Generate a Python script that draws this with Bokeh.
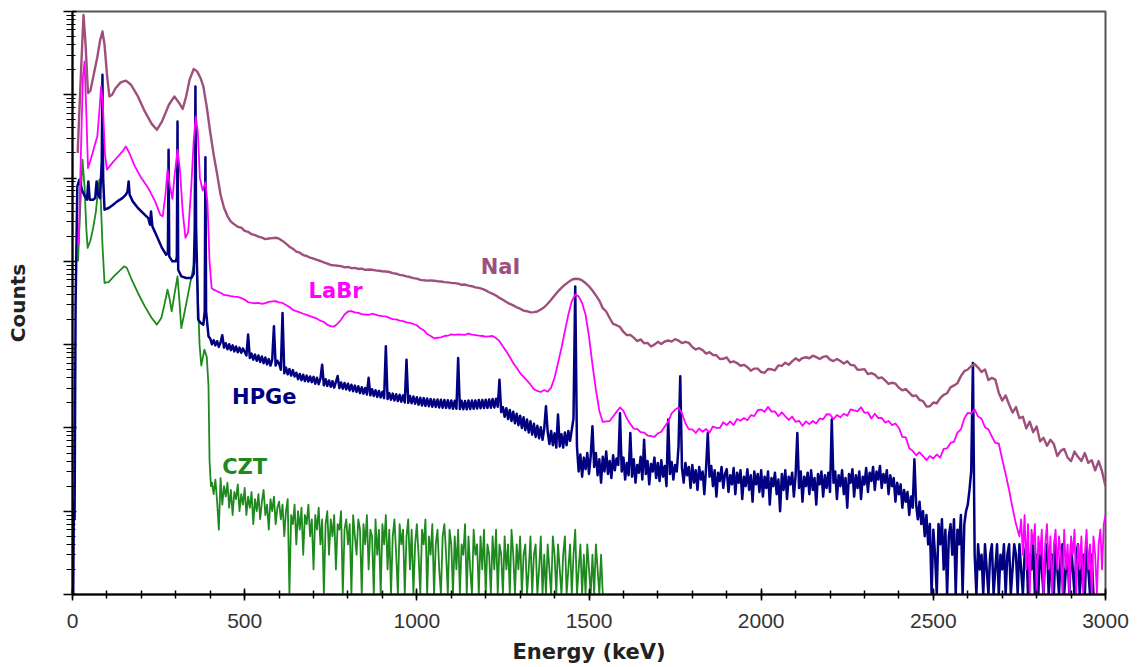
from bokeh.plotting import figure
from bokeh.models import Range1d, FixedTicker, CustomJSTickFormatter, ColumnDataSource
from bokeh.core.properties import value
from bokeh.embed import file_html
from bokeh.resources import INLINE

# ---------------- data (counts per channel) ----------------
detectors = ["NaI", "LaBr", "HPGe", "CZT"]

# NaI
nai_low_keV = [15, 25, 32, 38, 45, 52, 62, 72, 80, 87, 93, 100, 107, 115, 125, 140, 155, 170, 190, 210,
               230, 245, 260, 280, 296, 310, 320, 330, 340, 352, 362, 372, 380, 390, 400, 410, 420]
nai_low_counts = [200000, 2000000, 9100000, 4000000, 1050000, 1120000, 1780000, 2820000, 4470000, 5750000,
                  4000000, 1780000, 955000, 1000000, 1200000, 1410000, 1480000, 1320000, 955000, 631000,
                  447000, 380000, 479000, 759000, 955000, 794000, 676000, 955000, 1510000, 2040000,
                  1910000, 1580000, 1260000, 708000, 355000, 191000, 112000]
nai_grid_start, nai_grid_step = 430, 10
nai_grid_counts = [
    63000, 44000, 35000, 30000, 27800, 26000, 25400, 23200, 22600, 21200,
    20600, 19800, 19300, 18500, 18800, 19000, 19200, 18700, 17600, 16300,
    15000, 14200, 13100, 12700, 11900, 11600, 11100, 10800, 10400, 10100,
    9700, 9400, 9050, 8950, 8850, 8760, 8480, 8560, 8300, 8360,
    8100, 8180, 7900, 7980, 7920, 7800, 7720, 7620, 7550, 7450,
    7220, 7110, 6880, 6790, 6590, 6480, 6290, 6200, 6000, 5920,
    5870, 5910, 5860, 5780, 5730, 5640, 5590, 5520, 5470, 5400,
    5230, 5270, 5110, 5030, 4880, 4800, 4660, 4480, 4260, 4080,
    3880, 3640, 3460, 3250, 3080, 2960, 2810, 2700, 2560, 2520,
    2440, 2460, 2500, 2640, 2810, 3100, 3460, 3900, 4360, 4800,
    5240, 5630, 6020, 6180, 6150, 5900, 5490, 5020, 4460, 3900,
    3380, 2740, 2500, 2090, 1770, 1710, 1630, 1420, 1300, 1310,
    1212, 1104, 1155, 1040, 1051, 950, 1000, 1081, 1019, 1091,
    1122, 1086, 1165, 1120, 1045, 1082, 1050, 936, 876, 906,
    860, 780, 815, 751, 746, 673, 676, 701, 612, 629,
    601, 558, 572, 537, 487, 516, 515, 469, 460, 510,
    506, 492, 564, 556, 607, 573, 631, 685, 641, 690,
    706, 687, 736, 708, 673, 713, 727, 662, 635, 672,
    637, 592, 633, 569, 567, 499, 501, 508, 443, 456,
    436, 395, 405, 372, 337, 349, 340, 303, 283, 293,
    266, 241, 246, 217, 210, 181, 182, 202, 198, 228,
    250, 261, 307, 324, 345, 419, 480, 503, 552, 584,
    530, 470, 503, 376, 399, 381, 265, 213, 245, 191,
    153, 178, 131, 136, 99, 119, 89, 104, 69, 76,
    61, 72, 64, 46, 53, 56, 44, 40, 52, 45,
    40, 50, 38, 41, 31, 40, 30, 20]

# LaBr
labr_low_keV = [18, 25, 30, 35, 40, 45, 55, 65, 72, 78, 83, 88, 94, 100, 115, 130, 145, 155, 165, 180,
                200, 220, 240, 255, 262, 270, 276, 283, 290, 297, 305, 312, 320, 328, 336, 345, 352, 358,
                364, 370, 378, 386, 392, 398, 404, 410]
labr_low_counts = [15800, 251000, 1580000, 2510000, 631000, 132000, 178000, 251000, 316000, 631000,
                   1260000, 794000, 200000, 126000, 151000, 178000, 209000, 240000, 200000, 141000,
                   100000, 75900, 52500, 36300, 34700, 63100, 126000, 79400, 56200, 112000,
                   219000, 126000, 39800, 19100, 22400, 79400, 282000, 550000, 355000, 100000,
                   70800, 89100, 50100, 10000, 4790, 4570]
labr_grid_start, labr_grid_step = 420, 10
labr_grid_counts = [
    4370, 4200, 3950, 3900, 3820, 3770, 3740, 3610, 3480, 3230,
    3180, 3140, 3170, 3080, 3150, 3260, 3300, 3330, 3220, 3170,
    3000, 2830, 2620, 2520, 2440, 2350, 2280, 2200, 2130, 2050,
    1940, 1870, 1730, 1670, 1650, 1790, 1990, 2300, 2500, 2520,
    2440, 2410, 2330, 2300, 2280, 2350, 2290, 2230, 2200, 2180,
    2100, 2030, 2010, 1940, 1920, 1850, 1830, 1770, 1710, 1570,
    1490, 1340, 1270, 1190, 1210, 1220, 1270, 1280, 1330, 1310,
    1330, 1320, 1310, 1360, 1320, 1300, 1280, 1270, 1250, 1260,
    1270, 1200, 1100, 950, 830, 710, 600, 528, 455, 410,
    370, 333, 292, 278, 270, 285, 272, 305, 400, 600,
    910, 1450, 2290, 3310, 3980, 3800, 3160, 2290, 1260, 575,
    288, 160, 118, 120, 121, 137, 156, 176, 160, 130,
    111, 98, 97, 89, 88, 81, 80, 78, 86, 90,
    104, 119, 150, 165, 176, 150, 114, 96, 96, 87,
    98, 90, 97, 88, 104, 100, 100, 117, 108, 120,
    108, 128, 122, 132, 124, 142, 139, 163, 166, 156,
    179, 157, 158, 138, 154, 138, 125, 137, 118, 122,
    106, 120, 111, 121, 113, 130, 127, 146, 145, 127,
    143, 134, 148, 140, 167, 162, 158, 177, 152, 154,
    130, 148, 131, 132, 116, 121, 108, 113, 100, 78,
    77, 57, 53, 47, 51, 46, 41, 46, 43, 48,
    44, 56, 57, 66, 68, 88, 96, 130, 152, 149,
    167, 137, 129, 102, 96, 79, 66, 65, 42, 28,
    18, 11, 7]
labr_tail_start, labr_tail_step = 2750, 5
labr_tail_counts = [
    5, 8, 3, 9, 2, 7, 1, 6, 4, 7, 1, 5, 3, 6, 1, 4, 7, 2, 5, 1,
    4, 6, 2, 5, 3, 1, 6, 2, 4, 1, 5, 3, 6, 1, 4, 2, 5, 1, 3, 6,
    2, 4, 1, 5, 3, 1, 4, 6, 2, 7, 9]

# HPGe
hpge_low_keV = [2, 4, 6, 9, 14, 20, 28, 36, 42, 46, 50, 60, 66, 70, 74, 80, 85, 87, 89, 93,
                105, 118, 130, 145, 155, 160, 163, 166, 175, 190, 205, 220, 225, 228, 232, 245, 260, 272, 277, 279,
                281, 290, 300, 303, 305, 307, 316, 330, 345, 352, 355, 357, 359, 365, 372, 380, 384, 386, 388, 395]
hpge_low_counts = [1, 13, 8, 3160, 79400, 95500, 70800, 60300, 55000, 91200,
                   55000, 55000, 57500, 91200, 63100, 57500, 158000, 1740000, 100000, 41700,
                   43700, 47900, 52500, 57500, 63100, 69200, 91200, 63100, 52500, 43700,
                   38000, 33100, 27500, 39800, 26300, 20000, 14500, 12000, 12600, 219000,
                   11500, 10000, 10000, 11200, 479000, 7940, 6610, 6310, 6310, 7080,
                   25100, 1260000, 25100, 2000, 1820, 1740, 2510, 178000, 2510, 1260]
hpge_grid_start, hpge_grid_step = 400, 5
hpge_grid_counts = [
    1180, 1010, 1130, 980, 1100, 940, 1060, 1300, 920, 1040, 880, 1010, 860, 980, 830, 950, 810, 920, 800, 900,
    820, 740, 1320, 690, 780, 660, 760, 640, 740, 620, 720, 600, 700, 580, 670, 560, 660, 1660, 560, 640,
    590, 500, 2400, 455, 530, 440, 510, 425, 495, 415, 460, 385, 445, 375, 435, 365, 425, 360, 415, 355,
    410, 340, 400, 335, 390, 575, 325, 385, 320, 372, 312, 365, 305, 358, 420, 300, 352, 296, 346, 290,
    340, 282, 330, 276, 322, 270, 316, 262, 308, 258, 302, 252, 400, 246, 292, 242, 284, 236, 278, 232,
    272, 228, 955, 222, 262, 218, 258, 214, 254, 210, 250, 206, 246, 202, 660, 200, 242, 198, 238, 195,
    234, 190, 230, 186, 228, 184, 226, 182, 222, 180, 220, 178, 220, 176, 218, 175, 216, 174, 215, 172,
    214, 170, 212, 170, 690, 169, 212, 168, 211, 168, 213, 169, 214, 170, 214, 171, 216, 172, 217, 173,
    218, 174, 220, 175, 222, 176, 224, 180, 380, 155, 178, 136, 172, 128, 164, 121, 156, 114, 148, 108,
    140, 100, 134, 94, 126, 88, 120, 83, 112, 78, 106, 75, 102, 72, 98, 182, 90, 64, 92, 62,
    86, 58, 145, 60, 84, 58, 88, 62, 92, 70, 95, 130, 5000, 60, 30, 48, 26, 44, 32, 50,
    28, 46, 105, 34, 50, 27, 42, 22, 45, 30, 52, 28, 40, 25, 47, 31, 43, 36, 150, 30,
    44, 24, 38, 27, 87, 26, 42, 22, 36, 29, 45, 24, 72, 28, 40, 21, 37, 30, 44, 25,
    38, 23, 41, 26, 35, 20, 126, 28, 39, 24, 36, 30, 60, 417, 33, 22, 38, 27, 34, 19,
    36, 22, 31, 18, 34, 24, 30, 16, 33, 87, 26, 35, 20, 31, 15, 29, 23, 34, 19, 28,
    32, 17, 27, 21, 33, 16, 29, 22, 31, 14, 26, 20, 32, 18, 27, 13, 30, 21, 28, 17,
    31, 15, 26, 19, 30, 12, 25, 20, 29, 16, 24, 10, 28, 18, 31, 14, 26, 21, 29, 15,
    27, 87, 19, 30, 13, 26, 20, 29, 16, 31, 18, 25, 12, 28, 21, 30, 15, 27, 19, 29,
    17, 126, 22, 30, 14, 27, 20, 31, 16, 25, 11, 28, 22, 32, 15, 27, 19, 30, 14, 26,
    21, 33, 17, 29, 23, 34, 18, 30, 24, 35, 19, 28, 22, 31, 16, 27, 20, 25, 13, 22,
    16, 21, 11, 18, 13, 17, 9, 15, 11, 42, 12, 8, 13, 7, 10, 5, 9, 4, 7, 1,
    6, 3, 1, 7, 4, 8, 2, 6, 1, 5, 7, 3, 8, 1, 6, 4, 9, 1, 7, 10,
    12, 18, 30, 600, 3, 1, 4, 2, 3, 1, 4, 2, 1, 3, 4, 1, 2, 4, 1, 3,
    2, 4, 1, 3, 4, 1, 2, 4, 3, 1, 4, 2, 1, 3, 4, 1, 3, 2, 4, 1,
    3, 1, 4, 2, 1, 3, 4, 1, 2, 3, 1, 4, 2, 1, 3, 4, 1, 2, 3, 1,
    4, 2, 1, 3, 4, 1, 2, 3, 1, 4, 2, 1, 3, 1]

# CZT
czt_low_keV = [16, 22, 29, 35, 40, 44, 52, 60, 68, 74, 78, 82, 87, 93, 105, 120, 135, 150, 158, 170,
               190, 210, 230, 245, 258, 268, 276, 282, 288, 296, 305, 310, 316, 325, 340, 352, 360, 364, 369, 374,
               383, 390, 395, 398, 402]
czt_low_counts = [10000, 39800, 166000, 79400, 25100, 14500, 17800, 25100, 39800, 70800,
                  95500, 56200, 15800, 5500, 5620, 6610, 7590, 8710, 8320, 6310,
                  4170, 2880, 2090, 1740, 2090, 3160, 4570, 3550, 2510, 3980,
                  6610, 3550, 1580, 2400, 5010, 8910, 12000, 3980, 1000, 562,
                  871, 708, 316, 40, 20]
czt_grid_start, czt_grid_step = 405, 5
czt_grid_counts = [
    22, 16, 24, 13, 6, 25, 12, 20, 15, 22, 11, 18, 9, 17, 14, 21, 10, 16, 12, 19,
    9, 15, 11, 17, 7, 14, 10, 16, 8, 13, 18, 9, 12, 6, 14, 10, 15, 7, 11, 13,
    8, 12, 5, 10, 14, 1, 9, 7, 12, 4, 10, 6, 11, 3, 9, 7, 12, 5, 8, 2,
    9, 6, 11, 4, 8, 1, 7, 10, 3, 8, 5, 9, 2, 7, 6, 10, 1, 6, 8, 4,
    7, 1, 9, 5, 3, 8, 6, 1, 7, 4, 9, 2, 6, 5, 1, 8, 3, 6, 1, 7,
    4, 9, 2, 6, 1, 5, 8, 3, 1, 7, 4, 6, 1, 5, 8, 2, 6, 1, 4, 7,
    3, 1, 6, 4, 8, 1, 5, 3, 7, 1, 4, 6, 2, 1, 5, 7, 3, 1, 6, 4,
    1, 5, 2, 6, 1, 4, 3, 7, 1, 5, 2, 1, 6, 3, 4, 1, 5, 2, 6, 1,
    4, 3, 1, 5, 2, 6, 1, 4, 3, 1, 5, 2, 4, 1, 6, 3, 1, 4, 2, 5,
    1, 3, 4, 1, 2, 5, 1, 3, 4, 1, 2, 5, 1, 3, 1, 4, 2, 1, 5, 3,
    1, 4, 2, 1, 3, 5, 1, 2, 4, 1, 3, 6, 1, 2, 4, 1, 3, 1, 4, 2,
    1, 3, 1, 4, 2, 1, 3, 1]

x_ticks = [0, 500, 1000, 1500, 2000, 2500, 3000]
x_label = "Energy (keV)"
y_label = "Counts"

# in-plot series labels
label_keV = [1243, 764, 557, 500]
label_counts = [8500, 4460, 238, 34]

# ---------------- styling ----------------
colors = {"NaI": "#9E4F7C", "LaBr": "#FF00FF", "HPGe": "#000080", "CZT": "#1E8A1E"}
TICK_FONT = "Liberation Sans"
LABEL_FONT = "DejaVu Sans"


def channel_grid(start, step, counts):
    return [start + step * i for i in range(len(counts))]


series = {
    "NaI": (nai_low_keV + channel_grid(nai_grid_start, nai_grid_step, nai_grid_counts),
            nai_low_counts + nai_grid_counts),
    "LaBr": (labr_low_keV + channel_grid(labr_grid_start, labr_grid_step, labr_grid_counts)
             + channel_grid(labr_tail_start, labr_tail_step, labr_tail_counts),
             labr_low_counts + labr_grid_counts + labr_tail_counts),
    "HPGe": (hpge_low_keV + channel_grid(hpge_grid_start, hpge_grid_step, hpge_grid_counts),
             hpge_low_counts + hpge_grid_counts),
    "CZT": (czt_low_keV + channel_grid(czt_grid_start, czt_grid_step, czt_grid_counts),
            czt_low_counts + czt_grid_counts),
}

p = figure(frame_width=1033, frame_height=583,
           x_range=Range1d(0, 3000), y_range=Range1d(1, 1e7),
           y_axis_type="log", output_backend="svg", toolbar_location=None,
           min_border_left=72, min_border_right=33, min_border_top=11, min_border_bottom=68,
           background_fill_color="white", border_fill_color="white")

p.xgrid.visible = False
p.ygrid.visible = False
p.outline_line_color = "#555555"
p.outline_line_width = 2

widths = {"CZT": 1.8, "HPGe": 2.5, "LaBr": 1.8, "NaI": 2.4}
for name in ["CZT", "HPGe", "LaBr", "NaI"]:
    xs, ys = series[name]
    src = ColumnDataSource(dict(x=xs, y=ys))
    p.line("x", "y", source=src, line_color=colors[name], line_width=widths[name],
           line_join="round")

lab_src = ColumnDataSource(dict(x=label_keV, y=label_counts, text=detectors,
                                color=[colors[d] for d in detectors]))
p.text("x", "y", text="text", source=lab_src, text_color="color",
       text_font=value(LABEL_FONT), text_font_style="bold", text_font_size="21px",
       text_align="center", text_baseline="middle")

# x axis
xa = p.xaxis[0]
xa.ticker = FixedTicker(ticks=x_ticks, minor_ticks=list(range(0, 3001, 100)))
xa.axis_label = x_label
xa.axis_label_text_font = LABEL_FONT
xa.axis_label_text_font_style = "bold"
xa.axis_label_text_font_size = "21px"
xa.axis_label_text_color = "#222222"
xa.axis_label_standoff = 9
xa.major_label_text_font = TICK_FONT
xa.major_label_text_font_size = "21px"
xa.major_label_text_color = "#333333"
xa.major_label_standoff = 13
xa.axis_line_color = "black"
xa.axis_line_width = 2
xa.major_tick_in = 6
xa.major_tick_out = 6
xa.minor_tick_in = 4
xa.minor_tick_out = 4
xa.major_tick_line_width = 1.5
xa.minor_tick_line_width = 1.5
xa.major_tick_line_color = "black"
xa.minor_tick_line_color = "black"

# y axis (log, no numbers)
ya = p.yaxis[0]
ya.ticker = FixedTicker(ticks=[10 ** k for k in range(8)],
                        minor_ticks=[m * 10 ** k for k in range(7) for m in range(2, 10)])
ya.formatter = CustomJSTickFormatter(code="return ''")
ya.axis_label = y_label
ya.axis_label_text_font = LABEL_FONT
ya.axis_label_text_font_style = "bold"
ya.axis_label_text_font_size = "20px"
ya.axis_label_text_color = "#222222"
ya.axis_label_standoff = 34
ya.major_label_standoff = 0
ya.axis_line_color = "black"
ya.axis_line_width = 2
ya.major_tick_in = 4
ya.major_tick_out = 9
ya.minor_tick_in = 3
ya.minor_tick_out = 6
ya.major_tick_line_width = 1.5
ya.minor_tick_line_width = 1.2
ya.major_tick_line_color = "black"
ya.minor_tick_line_color = "black"

open("out.html", "w").write(file_html(p, INLINE))
